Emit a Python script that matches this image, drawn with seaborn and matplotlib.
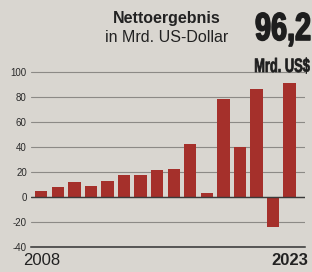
import matplotlib
matplotlib.use("Agg")
import matplotlib.pyplot as plt
import seaborn as sns
import pandas as pd
from matplotlib.patheffects import AbstractPathEffect
from matplotlib.transforms import Affine2D

years = [str(y) for y in range(2008, 2024)]
values = [4.5, 7.5, 12, 9, 13, 17.5, 17.5, 21.5, 22, 42, 3, 78, 40, 86, -24, 91]
tick_labels = ["2008"] + [""] * 14 + ["2023"]
y_ticks = [-40, -20, 0, 20, 40, 60, 80, 100]

BG = "#d9d6d0"
BAR = "#a5302b"
FONT = "Liberation Sans"


class Squeeze(AbstractPathEffect):
    def __init__(self, sx, x0, stroke):
        super().__init__()
        self.sx = sx
        self.x0 = x0
        self.stroke = stroke

    def draw_path(self, renderer, gc, tpath, affine, rgbFace=None):
        t = affine + Affine2D().translate(-self.x0, 0).scale(self.sx, 1).translate(self.x0, 0)
        gc.set_linewidth(self.stroke)
        gc.set_foreground(rgbFace if rgbFace is not None else "#1e1e1e")
        renderer.draw_path(gc, tpath, t, rgbFace)


sns.set_theme(style="white")
plt.rcParams["font.family"] = [FONT, "DejaVu Sans"]

W, H = 312, 272
fig = plt.figure(figsize=(W / 100, H / 100), dpi=100, facecolor=BG)
ax = fig.add_axes([31 / W, 1 - 247 / H, (305 - 31) / W, (247 - 71) / H])
ax.set_facecolor(BG)

df = pd.DataFrame({"year": years, "value": values})
sns.barplot(data=df, x="year", y="value", color=BAR, width=0.75, saturation=1,
            linewidth=0, edgecolor=BAR, ax=ax, zorder=3)

ax.set_xlim(-0.62, 15.93)
ax.set_ylim(-40, 100.5)
ax.set_yticks(y_ticks)
ax.set_yticklabels([str(t) for t in y_ticks], fontsize=7, color="#2a2a2a")
ax.set_xticks(range(len(years)))
ax.set_xticklabels(tick_labels, fontsize=12, color="#222222")
for lab in ax.get_xticklabels():
    if lab.get_text() == "2023":
        lab.set_fontweight("bold")
ax.tick_params(axis="both", length=0)
ax.tick_params(axis="y", pad=3)
ax.tick_params(axis="x", pad=4)
ax.set_xlabel("")
ax.set_ylabel("")
ax.yaxis.grid(True, color="#8c8a86", linewidth=0.8, zorder=0)
ax.axhline(0, color="#3a3a3a", linewidth=1.0, zorder=4)
for s in ["top", "right", "left"]:
    ax.spines[s].set_visible(False)
ax.spines["bottom"].set_color("#333333")
ax.spines["bottom"].set_linewidth(1.1)

fig.text(167 / W, 1 - 23.5 / H, "Nettoergebnis", ha="center", va="baseline",
         fontsize=11.5, fontweight="bold", color="#222222")
fig.text(167 / W, 1 - 42.5 / H, "in Mrd. US-Dollar", ha="center", va="baseline",
         fontsize=11.5, color="#222222")
fig.text(311 / W, 1 - 40 / H, "96,2", ha="right", va="baseline",
         fontsize=28, fontweight="bold", color="#1e1e1e",
         path_effects=[Squeeze(0.74, 311, 1.2)])
fig.text(310 / W, 1 - 72 / H, "Mrd. US$", ha="right", va="baseline",
         fontsize=14, fontweight="bold", color="#1e1e1e",
         path_effects=[Squeeze(0.66, 310, 0.5)])

fig.savefig("out.png", dpi=100, facecolor=BG)
